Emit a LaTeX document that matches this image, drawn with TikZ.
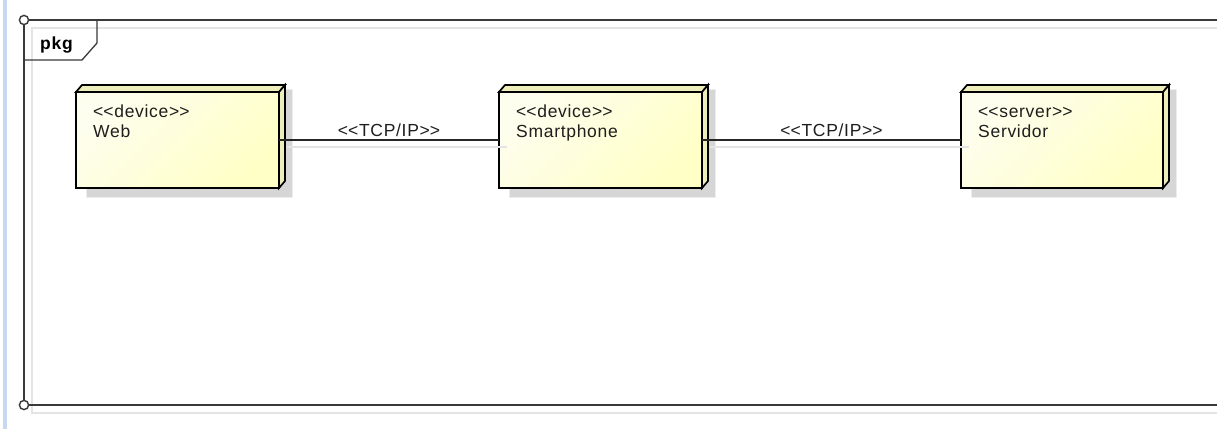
\documentclass[tikz,border=0pt]{standalone}
\usepackage{fontspec}
\usetikzlibrary{calc}
\newfontfamily\umlfont{Liberation Sans}[LetterSpace=4]
\newfontfamily\umlbold{Liberation Sans}[LetterSpace=4]

\definecolor{barblue}{HTML}{C6D9F1}
\definecolor{framecol}{HTML}{3A3A3A}
\definecolor{frameshade}{HTML}{E4E4E4}
\definecolor{boxlight}{HTML}{FEFEEE}
\definecolor{boxdark}{HTML}{FFFFC6}
\definecolor{boxside}{HTML}{EEEEBA}
\definecolor{boxshade}{HTML}{D6D6D6}
\definecolor{textcol}{HTML}{1E1E1E}

% stereotype guillemets written as two separate angle brackets
\newcommand\stereo[1]{<\kern0pt<#1>\kern0pt>}

\tikzset{
  framerule/.style={draw=framecol, line width=1.5},
  frameshadow/.style={draw=frameshade, line width=1.5},
  nodebox/.style={rectangle, draw=black, line width=1.7, outer sep=0pt,
    inner sep=0pt, minimum height=96, left color=boxlight, right color=boxdark,
    shading angle=45},
  nodeface/.style={fill=boxside, draw=black, line width=1.7, line join=miter},
  nodeshadow/.style={fill=boxshade},
  nodeshadowsoft/.style={fill=boxshade!45},
  umltext/.style={font=\umlfont\fontsize{17.5}{20}\selectfont, text=textcol,
    inner sep=0pt},
  link/.style={draw=black!85, line width=1.3},
  linkshadow/.style={draw=frameshade, line width=1.3},
  framepin/.style={draw=framecol, fill=white, line width=1.4},
}

% name, stereotype, label
\newcommand\umldevice[3]{%
  \fill[nodeshadowsoft] ($(#1.south west)+(10,10)$) rectangle ($(#1.north east)+(14,-3)$);
  \fill[nodeshadow] ($(#1.south west)+(11,9)$) rectangle ($(#1.north east)+(13,-2)$);
  \filldraw[nodeface] (#1.north west) -- ++(6,-7) -- ($(#1.north east)+(6,-7)$)
     -- (#1.north east) -- cycle;
  \filldraw[nodeface] (#1.north east) -- ++(6,-7) -- ($(#1.south east)+(6,-7)$)
     -- (#1.south east) -- cycle;
  \shade[nodebox] (#1.north west) rectangle (#1.south east);
  \draw[black, line width=1.7] (#1.north west) rectangle (#1.south east);
  \node[umltext, anchor=base west] (#1-st) at ($(#1.north west)+(17,25)$) {\stereo{#2}};
  \node[umltext, anchor=base west] (#1-nm) at ($(#1.north west)+(17,45)$) {#3};
}

\begin{document}
\begin{tikzpicture}[x=1pt, y=-1pt]
\useasboundingbox (0,0) rectangle (1217,429);
\fill[white] (0,0) rectangle (1217,429);

% left margin bar
\fill[barblue] (3,0) rectangle (7,429);

% package frame with its offset shade
\draw[frameshadow] (1217,28) -- (32,28) -- (32,413) -- (1217,413);
\draw[framerule] (1217,20) -- (24,20) -- (24,405) -- (1217,405);
\draw[framerule, line width=1.3] (97,20) -- (97,43) -- (82,60) -- (24,60);
\node[font=\umlbold\bfseries\fontsize{17.5}{20}\selectfont, text=black, inner sep=0pt,
  anchor=base west] (pkg) at (40,49) {pkg};
\filldraw[framepin] (24,20) circle (4.6);
\filldraw[framepin] (24,405) circle (4.6);

% node boxes (placed invisibly, then drawn as 3D boxes)
\path node[rectangle, outer sep=0pt, inner sep=0pt, minimum width=203, minimum height=96,
  anchor=north west] (web) at (76,92) {};
\path node[rectangle, outer sep=0pt, inner sep=0pt, minimum width=203, minimum height=96,
  anchor=north west] (phone) at (499,92) {};
\path node[rectangle, outer sep=0pt, inner sep=0pt, minimum width=202, minimum height=96,
  anchor=north west] (server) at (961,92) {};

\umldevice{web}{device}{Web}
\umldevice{phone}{device}{Smartphone}
\umldevice{server}{server}{Servidor}

% links and their shades
\draw[link] (web.east) -- (phone.west);
\draw[link] (phone.east) -- (server.west);
\draw[linkshadow] ($(web.east)+(8,7)$) -- ($(phone.west)+(8,7)$);
\draw[linkshadow] ($(phone.east)+(8,7)$) -- ($(server.west)+(8,7)$);

% link labels
\node[umltext, anchor=base] (tcp1) at ($(web.east)!0.5!(phone.west)+(0,-4)$) {\stereo{TCP/IP}};
\node[umltext, anchor=base] (tcp2) at ($(phone.east)!0.5!(server.west)+(0,-4)$) {\stereo{TCP/IP}};
\end{tikzpicture}
\end{document}
